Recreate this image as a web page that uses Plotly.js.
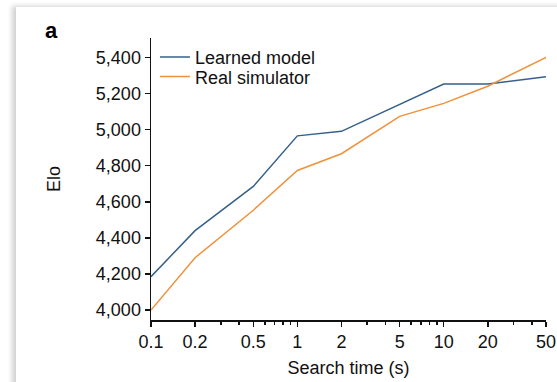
<!DOCTYPE html>
<html>
<head>
<meta charset="utf-8">
<script src="https://cdn.plot.ly/plotly-3.0.1.min.js"></script>
<style>
  html, body { margin: 0; padding: 0; background: #ffffff; }
  #card {
    position: absolute; left: 16px; top: 7px; width: 560px; height: 400px;
    background: #ffffff;
    box-shadow: -4px -1px 5px rgba(0,0,0,0.18);
  }
  #chart { position: absolute; left: 0; top: 0; width: 557px; height: 382px; }
</style>
</head>
<body>
<div id="card"></div>
<div id="chart"></div>
<script>
// Search time in seconds (log scale)
const searchTime = [0.1, 0.2, 0.5, 1, 2, 5, 10, 20, 50];
// Elo of the two planners
const learnedModel = [4185, 4440, 4685, 4965, 4990, 5140, 5252, 5252, 5292];
const realSimulator = [4000, 4290, 4553, 4773, 4866, 5073, 5145, 5240, 5400];

// Axis ticks
const xTickVals = [0.1, 0.2, 0.5, 1, 2, 5, 10, 20, 50];
const xTickText = ['0.1', '0.2', '0.5', '1', '2', '5', '10', '20', '50'];
const xMinorVals = [0.3, 0.4, 0.6, 0.7, 0.8, 0.9, 3, 4, 6, 7, 8, 9, 30, 40];
const yTickVals = [4000, 4200, 4400, 4600, 4800, 5000, 5200, 5400];

const font = 'Liberation Sans, Arial, Helvetica, sans-serif';
const fs = 18;

const traces = [
  {
    x: searchTime, y: learnedModel, name: 'Learned model',
    type: 'scatter', mode: 'lines', legend: 'legend',
    line: { color: '#35608a', width: 1.5 }
  },
  {
    x: searchTime, y: realSimulator, name: 'Real simulator',
    type: 'scatter', mode: 'lines', legend: 'legend2',
    line: { color: '#f0913b', width: 1.5 }
  }
];

const legendBase = {
  xanchor: 'left', yanchor: 'middle',
  bgcolor: 'rgba(0,0,0,0)',
  font: { family: font, size: fs, color: '#111111' },
  itemwidth: 30
};

const layout = {
  width: 557, height: 382,
  paper_bgcolor: 'rgba(0,0,0,0)',
  plot_bgcolor: 'rgba(0,0,0,0)',
  margin: { l: 151, r: 11, t: 38, b: 62 },
  font: { family: font, size: fs, color: '#111111' },
  showlegend: true,
  legend: Object.assign({ x: 0.01, y: 0.932 }, legendBase),
  legend2: Object.assign({ x: 0.01, y: 0.862 }, legendBase),
  xaxis: {
    type: 'log',
    range: [Math.log10(0.1), Math.log10(50)],
    tickmode: 'array', tickvals: xTickVals, ticktext: xTickText,
    ticks: 'outside', ticklen: 5, tickwidth: 1.5, tickcolor: '#111',
    minor: { tickmode: 'array', tickvals: xMinorVals, ticks: 'outside', ticklen: 3, tickwidth: 1.5, tickcolor: '#111', showgrid: false },
    showline: true, linecolor: '#111', linewidth: 1.5,
    showgrid: false, zeroline: false,
    title: { text: 'Search time (s)', font: { family: font, size: fs }, standoff: 10 }
  },
  yaxis: {
    range: [3945, 5507],
    tickmode: 'array', tickvals: yTickVals,
    tickformat: ',d',
    ticks: 'outside', ticklen: 5, tickwidth: 1.5, tickcolor: '#111',
    showline: true, linecolor: '#111', linewidth: 1.5,
    showgrid: false, zeroline: false,
    title: { text: 'Elo', font: { family: font, size: fs }, standoff: 30 }
  },
  annotations: [
    {
      text: '<b>a</b>', xref: 'paper', yref: 'paper',
      x: -0.253, y: 1.025, xanchor: 'center', yanchor: 'middle',
      showarrow: false, font: { family: font, size: 22, color: '#000' }
    }
  ]
};

Plotly.newPlot('chart', traces, layout, { displayModeBar: false, staticPlot: true });
</script>
</body>
</html>
